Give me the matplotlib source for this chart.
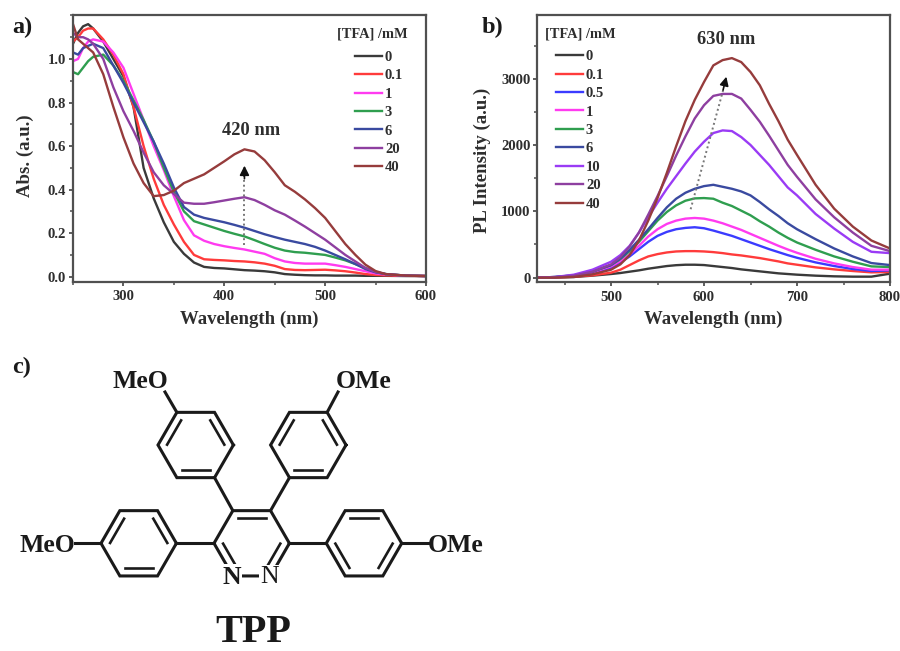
import numpy as np
import matplotlib
matplotlib.use("Agg")
import matplotlib.pyplot as plt
from matplotlib.ticker import MultipleLocator

plt.rcParams['font.family'] = ['Liberation Serif', 'DejaVu Serif']
plt.rcParams['font.weight'] = 'bold'
plt.rcParams['axes.labelweight'] = 'bold'

W, H = 900, 651
TXT = '#2e2e2e'

# Panel a : absorption
wl_a = [250, 255, 260, 265, 270, 280, 290, 300, 310, 320, 330, 340, 350, 360, 370, 380, 390,
        400, 410, 420, 430, 440, 450, 460, 470, 480, 490, 500, 510, 520, 530, 540, 550, 560, 580, 600]
abs_0 = [1.07, 1.12, 1.15, 1.16, 1.14, 1.08, 1.00, 0.92, 0.78, 0.50, 0.36, 0.25, 0.16, 0.105, 0.065, 0.045, 0.04,
         0.038, 0.034, 0.03, 0.028, 0.025, 0.02, 0.012, 0.009, 0.007, 0.006, 0.006, 0.005, 0.005, 0.005, 0.004, 0.004, 0.004, 0.003, 0.003]
abs_01 = [1.08, 1.10, 1.13, 1.14, 1.14, 1.09, 1.02, 0.93, 0.78, 0.60, 0.45, 0.33, 0.24, 0.16, 0.10, 0.08, 0.077,
          0.075, 0.072, 0.07, 0.066, 0.06, 0.05, 0.035, 0.031, 0.03, 0.031, 0.032, 0.029, 0.025, 0.019, 0.012, 0.008, 0.006, 0.004, 0.003]
abs_1 = [0.99, 1.00, 1.05, 1.08, 1.09, 1.08, 1.03, 0.96, 0.84, 0.72, 0.60, 0.49, 0.37, 0.26, 0.19, 0.165, 0.15,
         0.14, 0.132, 0.125, 0.115, 0.105, 0.085, 0.07, 0.063, 0.06, 0.06, 0.06, 0.053, 0.045, 0.035, 0.025, 0.015, 0.01, 0.005, 0.003]
abs_3 = [0.94, 0.93, 0.96, 0.99, 1.01, 1.02, 0.97, 0.90, 0.81, 0.72, 0.62, 0.50, 0.39, 0.30, 0.255, 0.24, 0.225,
         0.21, 0.197, 0.185, 0.168, 0.15, 0.133, 0.12, 0.113, 0.11, 0.105, 0.10, 0.088, 0.075, 0.058, 0.04, 0.022, 0.012, 0.005, 0.003]
abs_6 = [1.03, 1.02, 1.05, 1.06, 1.07, 1.05, 0.97, 0.89, 0.80, 0.71, 0.62, 0.52, 0.41, 0.32, 0.285, 0.27, 0.26,
         0.25, 0.238, 0.225, 0.21, 0.195, 0.182, 0.17, 0.16, 0.15, 0.137, 0.12, 0.10, 0.08, 0.058, 0.035, 0.02, 0.012, 0.005, 0.003]
abs_20 = [1.12, 1.10, 1.10, 1.09, 1.07, 1.00, 0.87, 0.76, 0.67, 0.57, 0.48, 0.42, 0.38, 0.34, 0.335, 0.335, 0.342,
          0.35, 0.358, 0.365, 0.352, 0.33, 0.305, 0.285, 0.258, 0.23, 0.20, 0.17, 0.135, 0.10, 0.07, 0.04, 0.022, 0.012, 0.005, 0.003]
abs_40 = [1.16, 1.09, 1.07, 1.05, 1.03, 0.93, 0.78, 0.64, 0.52, 0.43, 0.37, 0.375, 0.395, 0.43, 0.45, 0.47, 0.50,
          0.53, 0.562, 0.585, 0.575, 0.535, 0.48, 0.42, 0.39, 0.355, 0.315, 0.27, 0.21, 0.15, 0.10, 0.055, 0.026, 0.012, 0.005, 0.003]
series_a = [abs_0, abs_01, abs_1, abs_3, abs_6, abs_20, abs_40]
labels_a = ['0', '0.1', '1', '3', '6', '20', '40']
colors_a = ['#3a3a3a', '#ff3b3b', '#ff3bf0', '#2f9e4f', '#3a4aa0', '#8e3fa0', '#963c3c']

# Panel b : photoluminescence
wl_b = [420, 440, 460, 480, 500, 510, 520, 530, 540, 550, 560, 570, 580, 590, 600, 610, 620, 630, 640,
        650, 660, 670, 680, 690, 700, 720, 740, 760, 780, 800]
pl_0 = [0, 3, 10, 30, 55, 70, 90, 110, 135, 155, 175, 188, 195, 195, 190, 175, 160, 145, 125,
        110, 95, 80, 65, 55, 45, 30, 20, 15, 15, 60]
pl_01 = [0, 5, 15, 35, 75, 120, 190, 260, 320, 355, 380, 395, 400, 400, 395, 385, 370, 350, 335,
         315, 295, 270, 245, 215, 195, 155, 125, 100, 80, 85]
pl_05 = [0, 8, 25, 70, 150, 230, 320, 430, 540, 630, 690, 730, 750, 760, 745, 710, 670, 630, 580,
         530, 480, 430, 385, 340, 300, 230, 175, 130, 100, 110]
pl_1 = [0, 8, 30, 80, 170, 250, 350, 480, 620, 730, 810, 860, 890, 900, 890, 860, 820, 770, 720,
        660, 600, 540, 480, 425, 375, 285, 215, 160, 120, 120]
pl_3 = [0, 10, 35, 90, 190, 280, 400, 540, 700, 860, 990, 1090, 1160, 1195, 1200, 1190, 1130, 1080, 1010,
        940, 850, 770, 680, 600, 530, 420, 320, 240, 170, 160]
pl_6 = [0, 10, 35, 90, 190, 290, 420, 570, 730, 900, 1060, 1190, 1280, 1340, 1380, 1400, 1370, 1340, 1300,
        1240, 1140, 1030, 930, 820, 730, 580, 440, 320, 220, 190]
pl_10 = [0, 10, 45, 120, 240, 340, 480, 680, 910, 1130, 1340, 1530, 1720, 1900, 2050, 2180, 2220, 2210, 2120,
         2000, 1850, 1700, 1530, 1360, 1240, 960, 740, 540, 390, 370]
pl_20 = [0, 5, 30, 90, 200, 310, 470, 680, 950, 1230, 1530, 1840, 2130, 2400, 2600, 2740, 2770, 2770, 2700,
         2530, 2350, 2140, 1920, 1700, 1520, 1180, 910, 680, 480, 400]
pl_40 = [0, 0, 10, 50, 120, 200, 340, 560, 860, 1200, 1580, 1980, 2360, 2680, 2950, 3200, 3280, 3310, 3250,
         3100, 2900, 2620, 2360, 2080, 1850, 1400, 1040, 770, 560, 440]
series_b = [pl_0, pl_01, pl_05, pl_1, pl_3, pl_6, pl_10, pl_20, pl_40]
labels_b = ['0', '0.1', '0.5', '1', '3', '6', '10', '20', '40']
colors_b = ['#3a3a3a', '#ff3b3b', '#3b3bff', '#ff3bf0', '#2f9e4f', '#3a4aa0', '#9a3bf5', '#8e3fa0', '#963c3c']


def axes_px(fig, left, top, right, bottom):
    # axes from pixel box, y counted from the top of the image
    return fig.add_axes([left / W, 1 - bottom / H, (right - left) / W, (bottom - top) / H])


def style_axes(ax):
    for side in ax.spines:
        ax.spines[side].set_linewidth(1.6)
        ax.spines[side].set_color('#505050')
    ax.tick_params(which='major', direction='out', length=3.2, width=1.3, color='#505050',
                   labelsize=10.6, labelcolor=TXT)
    ax.tick_params(axis='x', which='major', pad=3)
    ax.tick_params(axis='y', which='major', pad=1.6)
    ax.tick_params(which='minor', direction='out', length=2, width=1.1, color='#505050')


def add_legend(ax, labels, bbox_px):
    fig = ax.figure
    leg = ax.legend(labels=labels, handles=ax.get_lines()[:len(labels)], loc='upper left',
                    bbox_to_anchor=(bbox_px[0] / W, 1 - bbox_px[1] / H), bbox_transform=fig.transFigure,
                    frameon=False, fontsize=10.5, labelspacing=0.36, handlelength=1.85, handletextpad=0.2,
                    borderpad=0, borderaxespad=0)
    for t in leg.get_texts():
        t.set_color(TXT)


fig = plt.figure(figsize=(W / 100, H / 100), dpi=100)

# background layer in pixel coordinates, for letters and the molecule
bg = fig.add_axes([0, 0, 1, 1])
bg.set_xlim(0, W)
bg.set_ylim(H, 0)
bg.axis('off')

ax_a = axes_px(fig, 73, 15, 426, 281.7)
for vals, c in zip(series_a, colors_a):
    ax_a.plot(wl_a, vals, color=c, lw=1.7)
ax_a.set_xlim(250, 600)
ax_a.set_ylim(-0.023, 1.202)
ax_a.xaxis.set_minor_locator(MultipleLocator(50))
ax_a.yaxis.set_minor_locator(MultipleLocator(0.1))
ax_a.set_yticks([0, 0.2, 0.4, 0.6, 0.8, 1.0])
ax_a.set_xticks([300, 400, 500, 600])
style_axes(ax_a)
ax_a.set_xlabel('Wavelength (nm)', fontsize=13.5, color=TXT, labelpad=5)
ax_a.set_ylabel('Abs. (a.u.)', fontsize=13.5, color=TXT)
ax_a.yaxis.set_label_coords(-0.111, 0.471)
ax_a.plot([420, 420], [0.145, 0.48], color='#777777', lw=1.4, ls=(0, (1, 1.5)))
ax_a.annotate('', xy=(420, 0.51), xytext=(420, 0.45),
              arrowprops=dict(arrowstyle='-|>', color='#111111', lw=1.2, mutation_scale=14, shrinkA=0, shrinkB=0))
ax_a.text(426.5, 0.67, '420 nm', fontsize=13.3, color=TXT, ha='center', va='center')
ax_a.text(337, 34, '[TFA] /mM', transform=bg.transData, fontsize=10.4, color=TXT, ha='left', va='center')
add_legend(ax_a, labels_a, (355, 50.5))

ax_b = axes_px(fig, 537.3, 15, 890, 282.3)
for vals, c in zip(series_b, colors_b):
    ax_b.plot(wl_b, vals, color=c, lw=1.7)
ax_b.set_xlim(420.7, 800)
ax_b.set_ylim(-70, 3960)
ax_b.set_xticks([500, 600, 700, 800])
ax_b.xaxis.set_minor_locator(MultipleLocator(50))
ax_b.set_yticks([0, 1000, 2000, 3000])
ax_b.yaxis.set_minor_locator(MultipleLocator(500))
style_axes(ax_b)
ax_b.set_xlabel('Wavelength (nm)', fontsize=13.5, color=TXT, labelpad=5)
ax_b.set_ylabel('PL Intensity (a.u.)', fontsize=13.5, color=TXT)
ax_b.yaxis.set_label_coords(-0.131, 0.4575)
ax_b.plot([585.6, 621], [1032, 2850], color='#777777', lw=1.4, ls=(0, (1, 1.5)))
ax_b.annotate('', xy=(624, 3030), xytext=(620.5, 2830),
              arrowprops=dict(arrowstyle='-|>', color='#111111', lw=1.2, mutation_scale=13, shrinkA=0, shrinkB=0))
ax_b.text(623.6, 3590, '630 nm', fontsize=13.3, color=TXT, ha='center', va='center')
ax_b.text(545, 34, '[TFA] /mM', transform=bg.transData, fontsize=10.4, color=TXT, ha='left', va='center')
add_legend(ax_b, labels_b, (556, 50))

# panel letters
bg.text(12, 27, 'a)', fontsize=17.5, color='#1a1a1a', ha='left', va='center')
bg.text(482, 27, 'b)', fontsize=17.5, color='#1a1a1a', ha='left', va='center')
bg.text(12, 367, 'c)', fontsize=17.5, color='#1a1a1a', ha='left', va='center')


# c) TPP molecule
def hexagon(cx, cy, r=37.7):
    ang = np.radians(np.arange(0, 360, 60))
    return np.column_stack([cx + r * np.cos(ang), cy + r * np.sin(ang)])


def draw_ring(cx, cy, doubles):
    v = hexagon(cx, cy)
    bg.plot(*np.vstack([v, v[0]]).T, color='#1a1a1a', lw=2.2, solid_joinstyle='miter')
    c = np.array([cx, cy])
    for i in doubles:
        p, q = v[i], v[(i + 1) % 6]
        # inner line of the double bond, moved towards the centre
        mid = (p + q) / 2
        mid = mid + (c - mid) / np.linalg.norm(c - mid) * 7.7
        d = (q - p) / np.linalg.norm(q - p) * 14
        bg.plot([mid[0] - d[0], mid[0] + d[0]], [mid[1] - d[1], mid[1] + d[1]], color='#1a1a1a', lw=1.9)
    return v


def bond(p, q):
    bg.plot([p[0], q[0]], [p[1], q[1]], color='#1a1a1a', lw=2.2, zorder=1)


ring_ul = draw_ring(195.7, 445, [3, 5, 1])
ring_ur = draw_ring(308.3, 445, [3, 5, 1])
ring_l = draw_ring(138.7, 543.3, [3, 5, 1])
ring_r = draw_ring(364, 543.3, [4, 0, 2])
ring_c = draw_ring(251.7, 543.3, [4, 0, 2])

bond(ring_ul[1], ring_c[4])
bond(ring_ur[2], ring_c[5])
bond(ring_l[0], ring_c[3])
bond(ring_r[3], ring_c[0])
bond(ring_ul[4], (165, 392))
bond(ring_ur[5], (338, 392))
bond(ring_l[3], (75, 543.3))
bond(ring_r[0], (428, 543.3))

box = dict(facecolor='white', edgecolor='none', pad=0.8)
bg.text(168, 382, 'MeO', fontsize=18.5, color='#1a1a1a', ha='right', va='center')
bg.text(336, 382, 'OMe', fontsize=18.5, color='#1a1a1a', ha='left', va='center')
bg.text(75, 545, 'MeO', fontsize=18.5, color='#1a1a1a', ha='right', va='center')
bg.text(428, 545, 'OMe', fontsize=18.5, color='#1a1a1a', ha='left', va='center')
bg.text(232, 577, 'N', fontsize=18.5, color='#1a1a1a', ha='center', va='center', bbox=box)
bg.text(269.5, 577, 'N', fontsize=18.5, color='#1a1a1a', fontweight='normal', ha='center', va='center', bbox=box)
bg.text(253, 632, 'TPP', fontsize=29, color='#1a1a1a', ha='center', va='center')

fig.savefig('out.png', dpi=100)
